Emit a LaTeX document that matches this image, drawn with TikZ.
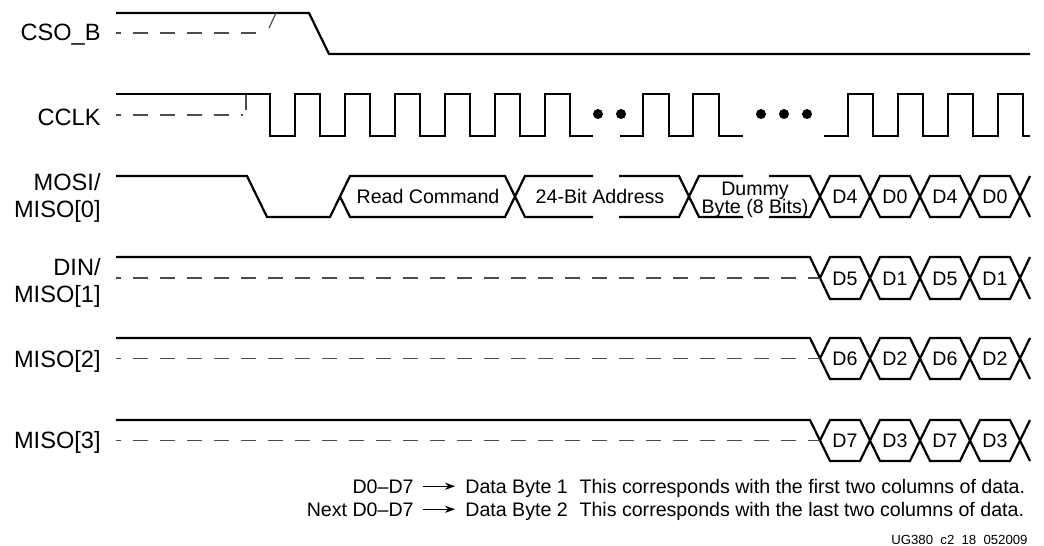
\documentclass[tikz,border=0pt]{standalone}
\usepackage{fontspec}
\setmainfont{Liberation Sans}
\usetikzlibrary{arrows.meta}
\begin{document}
\begin{tikzpicture}[x=0.5pt,y=-0.5pt,
  sig/.style={line width=1.1pt, line join=miter, line cap=butt},
  dsh/.style={line width=0.6pt, draw=black!70, dash pattern=on 7.5pt off 6pt, dash phase=5pt},
  thin/.style={line width=0.6pt, draw=black!70},
  lbl/.style={anchor=base east, inner sep=0pt, font=\fontsize{11.8}{14}\selectfont},
  bustxt/.style={anchor=base, inner sep=0pt, font=\fontsize{9.8}{11}\selectfont},
  note/.style={inner sep=0pt, font=\fontsize{9.8}{11}\selectfont},
  arr/.style={line width=0.6pt, -{Stealth[length=5pt,width=3.6pt]}, shorten <=4.5pt, shorten >=5pt},
  dot/.style={fill=black, draw=none},
]
\useasboundingbox (0,0) rectangle (1044,546);

% ---------- labels ----------
\node[lbl] (lcso) at (101,40) {CSO\_B};
\node[lbl] (lclk) at (101,125) {CCLK};
\node[lbl] (lmosia) at (101,190) {MOSI/};
\node[lbl] (lmosib) at (101,217) {MISO[0]};
\node[lbl] (ldina) at (101,275) {DIN/};
\node[lbl] (ldinb) at (101,302) {MISO[1]};
\node[lbl] (lm2) at (101,367) {MISO[2]};
\node[lbl] (lm3) at (101,448) {MISO[3]};

% ---------- CSO_B ----------
\draw[sig] (116,13) -- (309,13) -- (329,54) -- (1030,54);
\draw[dsh] (116,33) -- (266,33);
\draw[thin] (269,28) -- (276,13);

% ---------- CCLK ----------
\draw[dsh] (116,115) -- (243,115);
\draw[thin] (246,94) -- (246,110);
\draw[sig] (116,94) -| (270,136) -| (295,94) -| (320,136) -| (345,94) -| (370,136)
  -| (395,94) -| (420,136) -| (445,94) -| (470,136) -| (495,94) -| (520,136)
  -| (545,94) -| (570,136) -- (593,136);
\draw[sig] (620,136) -| (643,94) -| (669,136) -| (693,94) -| (719,136) -- (743,136);
\draw[sig] (824,136) -| (848,94) -| (873,136) -| (898,94) -| (923,136) -| (948,94)
  -| (973,136) -| (998,94) -| (1023,136) -- (1030,136);
\foreach \xd in {598,621,761,784,807}
  \fill[dot] (\xd,114) circle[radius=2.5pt];

% ---------- MOSI / MISO[0] ----------
\draw[sig] (116,176) -- (247,176) -- (267,217) -- (330,217) -- (350,176) -- (505,176) -- (525,217) -- (593,217);
\draw[sig] (340,196.5) -- (350,217) -- (505,217) -- (525,176) -- (593,176);
\draw[sig] (619,176) -- (679,176) -- (699,217) -- (743,217);
\draw[sig] (619,217) -- (679,217) -- (699,176) -- (743,176);
\draw[sig] (769,176) -- (810,176) -- (830,217) -- (860,217) -- (880,176) -- (910,176) -- (930,217) -- (960,217) -- (980,176) -- (1010,176) -- (1030,217);
\draw[sig] (769,217) -- (810,217) -- (830,176) -- (860,176) -- (880,217) -- (910,217) -- (930,176) -- (960,176) -- (980,217) -- (1010,217) -- (1030,176);
\node[bustxt] (trc) at (428,203) {Read Command};
\node[bustxt] (tad) at (600,203) {24-Bit Address};
\node[bustxt] (tdm) at (755,195) {Dummy};
\node[bustxt] (tby) at (755,213) {Byte (8 Bits)};
\node[bustxt] (m0a) at (845,203) {D4};
\node[bustxt] (m0b) at (895,203) {D0};
\node[bustxt] (m0c) at (945,203) {D4};
\node[bustxt] (m0d) at (995,203) {D0};

% ---------- DIN / MISO[1..3] ----------
\foreach \T/\B/\M/\ta/\tb [count=\k] in {257/299/278/D5/D1, 338/379/358.5/D6/D2, 420/461/440.5/D7/D3}{
  \draw[sig] (116,\T) -- (810,\T) -- (830,\B) -- (860,\B) -- (880,\T) -- (910,\T) -- (930,\B) -- (960,\B) -- (980,\T) -- (1010,\T) -- (1030,\B);
  \draw[dsh] (116,\M) -- (820,\M);
  \draw[sig] (820,\M) -- (830,\T) -- (860,\T) -- (880,\B) -- (910,\B) -- (930,\T) -- (960,\T) -- (980,\B) -- (1010,\B) -- (1030,\T);
  \node[bustxt] (s\k a) at (845,\M+7) {\ta};
  \node[bustxt] (s\k b) at (895,\M+7) {\tb};
  \node[bustxt] (s\k c) at (945,\M+7) {\ta};
  \node[bustxt] (s\k d) at (995,\M+7) {\tb};
}

% ---------- legend ----------
\node[note, anchor=base east] (k1) at (414,493) {D0–D7};
\node[note, anchor=base west] (v1) at (465,493) {Data Byte 1\hspace{0.6em}This corresponds with the first two columns of data.};
\node[note, anchor=base east] (k2) at (414,516) {Next D0–D7};
\node[note, anchor=base west] (v2) at (465,516) {Data Byte 2\hspace{0.6em}This corresponds with the last two columns of data.};
\draw[arr] (k1.east) -- (k1.east -| v1.west);
\draw[arr] (k2.east) -- (k2.east -| v2.west);
\node[inner sep=0pt, anchor=base east, font=\fontsize{6.6}{8}\selectfont] (ug) at (1028,544) {UG380\hspace{0.55em}c2\hspace{0.55em}18\hspace{0.55em}052009};
\end{tikzpicture}
\end{document}
